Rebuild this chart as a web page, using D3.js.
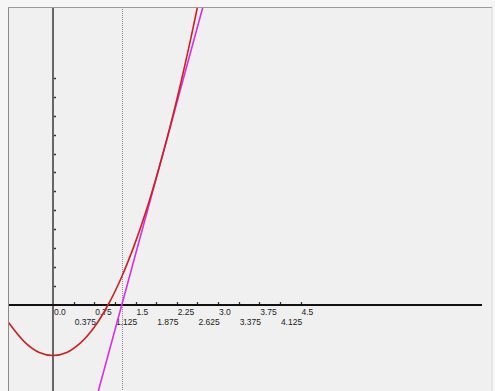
<!DOCTYPE html>
<html>
<head>
<meta charset="utf-8">
<script src="https://cdn.jsdelivr.net/npm/d3@7"></script>
<style>
  body { margin: 0; background: #f6f6f6; }
  svg { display: block; }
</style>
</head>
<body>
<svg id="chart" width="495" height="391"></svg>
<script>
// f(x) = x^2 - 1
const curveX = [-0.82, -0.5, -0.25, 0, 0.25, 0.5, 0.75, 1, 1.25, 1.5, 1.75, 2, 2.25, 2.5, 2.75]
const curveY = [-0.33, -0.75, -0.94, -1, -0.94, -0.75, -0.44, 0, 0.56, 1.25, 2.06, 3, 4.06, 5.25, 6.56]

// tangent at x = 2
const tangentX = [0.75, 2.8]
const tangentY = [-2.0, 6.2]

// newton step x1
const newtonX = 1.25

const xTicks = [0, 0.375, 0.75, 1.125, 1.5, 1.875, 2.25, 2.625, 3, 3.375, 3.75, 4.125, 4.5]
const yTicks = [0.375, 0.75, 1.125, 1.5, 1.875, 2.25, 2.625, 3, 3.375, 3.75, 4.125, 4.5]

const panel = {left: 8, top: 7, right: 492, bottom: 391}

const x = d3.scaleLinear().domain([0, 4.5]).range([53, 53 + 4.5*55])
const y = d3.scaleLinear().domain([0, 4.5]).range([305, 305 - 4.5*50.5])

const svg = d3.select('#chart')

svg.append('rect')
   .attr('x', panel.left)
   .attr('y', panel.top)
   .attr('width', panel.right - panel.left)
   .attr('height', panel.bottom - panel.top)
   .attr('fill', '#f0f0f0')

svg.append('line')
   .attr('x1', panel.right).attr('x2', panel.right)
   .attr('y1', panel.top).attr('y2', panel.bottom)
   .attr('stroke', '#dcdcdc')

svg.append('line')
   .attr('x1', panel.left + 0.5).attr('x2', panel.left + 0.5)
   .attr('y1', panel.top).attr('y2', panel.bottom)
   .attr('stroke', '#8a8a8a')

svg.append('line')
   .attr('x1', panel.left).attr('x2', panel.right)
   .attr('y1', panel.top + 0.5).attr('y2', panel.top + 0.5)
   .attr('stroke', '#9a9a9a')

svg.append('clipPath')
   .attr('id', 'clip')
   .append('rect')
   .attr('x', panel.left + 1)
   .attr('y', panel.top + 1)
   .attr('width', panel.right - panel.left - 1)
   .attr('height', panel.bottom - panel.top - 1)

const plot = svg.append('g').attr('clip-path', 'url(#clip)')

// dotted newton line
plot.append('line')
    .attr('x1', Math.round(x(newtonX)) + 0.5)
    .attr('x2', Math.round(x(newtonX)) + 0.5)
    .attr('y1', panel.top)
    .attr('y2', panel.bottom)
    .attr('stroke', '#8c8c8c')
    .attr('stroke-dasharray', '1,1')

// y axis
plot.append('line')
    .attr('x1', x(0)).attr('x2', x(0))
    .attr('y1', panel.top).attr('y2', panel.bottom)
    .attr('stroke', '#666')
    .attr('stroke-width', 2)

plot.selectAll('.ytick')
    .data(yTicks)
    .enter()
    .append('line')
    .attr('class', 'ytick')
    .attr('x1', x(0) + 1).attr('x2', x(0) + 3)
    .attr('y1', d => Math.round(y(d)) + 0.5)
    .attr('y2', d => Math.round(y(d)) + 0.5)
    .attr('stroke', '#333')
    .attr('stroke-width', 1.3)

// x axis
plot.append('line')
    .attr('x1', panel.left).attr('x2', 482)
    .attr('y1', y(0)).attr('y2', y(0))
    .attr('stroke', '#111')
    .attr('stroke-width', 2)

plot.selectAll('.xtick')
    .data(xTicks.slice(1))
    .enter()
    .append('line')
    .attr('class', 'xtick')
    .attr('x1', d => Math.round(x(d)) + 0.5)
    .attr('x2', d => Math.round(x(d)) + 0.5)
    .attr('y1', y(0) - 3)
    .attr('y2', y(0) - 1)
    .attr('stroke', '#333')
    .attr('stroke-width', 1.3)

plot.selectAll('.xlabel')
    .data(xTicks)
    .enter()
    .append('text')
    .attr('class', 'xlabel')
    .attr('x', d => x(d) + 1)
    .attr('y', (d, i) => i % 2 == 0 ? 315 : 325)
    .attr('fill', '#222')
    .style('font-family', 'Liberation Sans, Arial, sans-serif')
    .style('font-size', '8.5px')
    .text(d => Number.isInteger(d) ? d.toFixed(1) : String(d))

// tangent line
const pts = d3.zip(curveX, curveY)
const tan = d3.zip(tangentX, tangentY)

plot.append('path')
    .datum(tan)
    .attr('d', d3.line().x(d => x(d[0])).y(d => y(d[1])))
    .attr('fill', 'none')
    .attr('stroke', '#d62ee0')
    .attr('stroke-width', 1.6)

plot.append('path')
    .datum(pts)
    .attr('d', d3.line().x(d => x(d[0])).y(d => y(d[1])).curve(d3.curveCatmullRom))
    .attr('fill', 'none')
    .attr('stroke', '#cc2020')
    .attr('stroke-width', 1.6)
</script>
</body>
</html>
